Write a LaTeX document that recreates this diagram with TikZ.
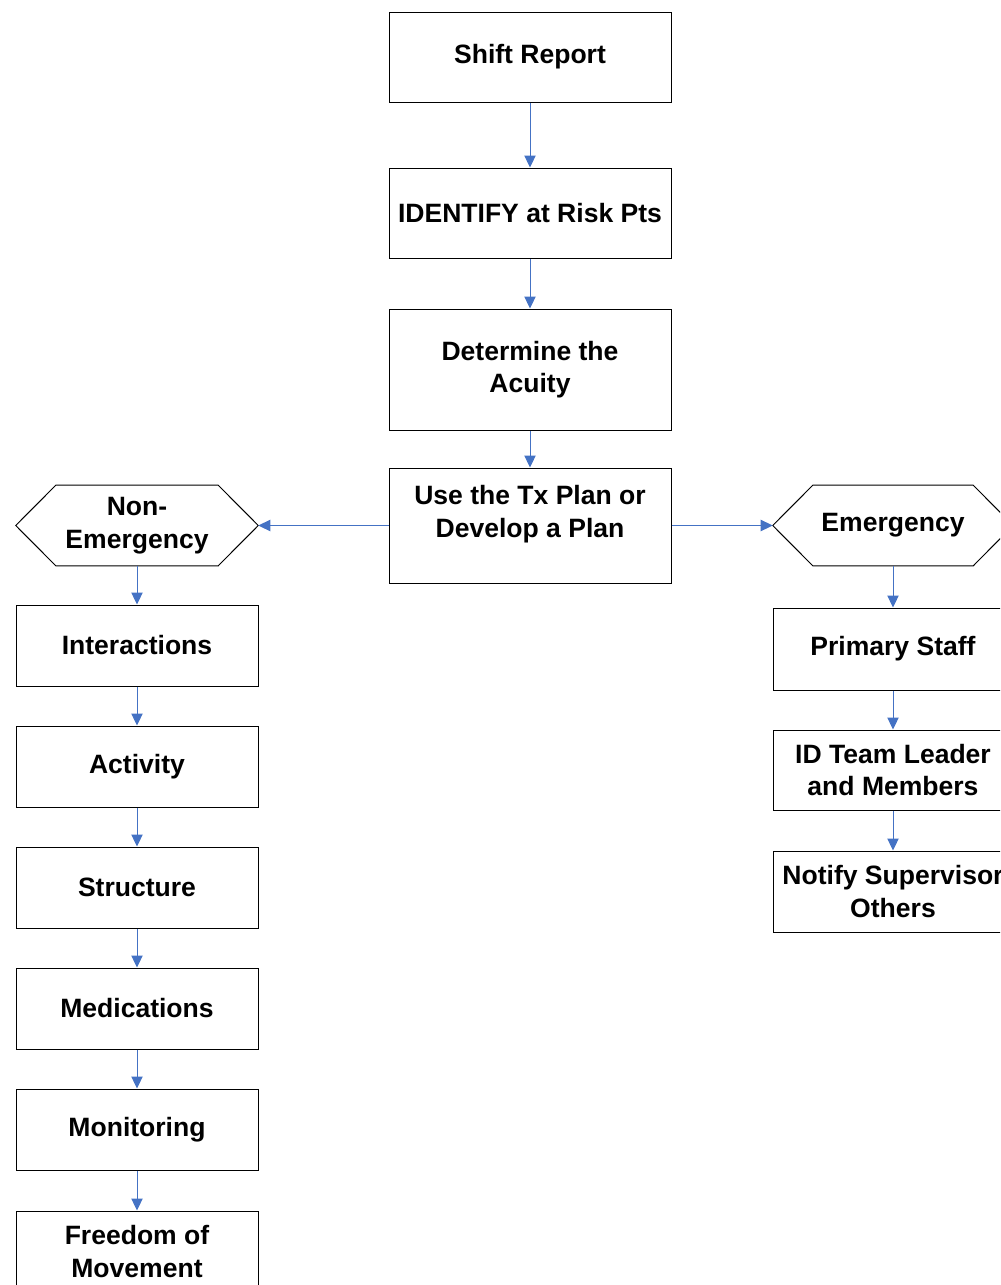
\documentclass[tikz,border=0pt]{standalone}
\usepackage{fontspec}
\setmainfont{Liberation Sans}
\usetikzlibrary{arrows.meta,calc}
\definecolor{arrowblue}{RGB}{68,114,196}
\begin{document}
\begin{tikzpicture}[x=0.75pt,y=-0.75pt,
 lbl/.style={font=\fontsize{19.9pt}{24.5pt}\selectfont\bfseries},
 box/.style={lbl,draw=black,line width=0.75pt,fill=white,inner sep=0pt,align=center},
 hexa/.style={lbl,draw=none,inner sep=0pt,align=center,minimum width=181.5pt,minimum height=60pt},
 hexline/.style={draw=black,line width=0.75pt},
 conn/.style={draw=arrowblue,line width=0.75pt,-{Triangle[length=9pt,width=8.5pt]}}]
\useasboundingbox (0,0) rectangle (1000,1285);
\clip (0,0) rectangle (1000,1285);
% centre column
\node[box,minimum width=211.5pt,minimum height=67.5pt] (shift) at (530,57) {Shift Report};
\node[box,minimum width=211.5pt,minimum height=67.5pt] (ident) at (530,213) {IDENTIFY at Risk Pts};
\node[box,minimum width=211.5pt,minimum height=90.75pt] (acuity) at (530,369.5) {Determine the\\Acuity};
\node[box,minimum width=211.5pt,minimum height=86.25pt] (plan) at (530,525.5) {};
\node[lbl,align=center,inner sep=0pt] (plantxt) at (530,514) {Use the Tx Plan or\\Develop a Plan};
% hexagons
\node[hexa] (nonem) at (137,525.5) {Non-\\Emergency};
\draw[hexline] (nonem.west) -- ($(nonem.north west)+(40,0)$) -- ($(nonem.north east)+(-40,0)$) -- (nonem.east) -- ($(nonem.south east)+(-40,0)$) -- ($(nonem.south west)+(40,0)$) -- cycle;
\node[hexa,minimum width=180pt] (emerg) at (893,525.5) {Emergency};
\draw[hexline] (emerg.west) -- ($(emerg.north west)+(40,0)$) -- ($(emerg.north east)+(-40,0)$) -- (emerg.east) -- ($(emerg.south east)+(-40,0)$) -- ($(emerg.south west)+(40,0)$) -- cycle;
% left column
\node[box,minimum width=181.5pt,minimum height=60.75pt] (inter) at (137,645.5) {Interactions};
\node[box,minimum width=181.5pt,minimum height=60.75pt] (activ) at (137,766.5) {Activity};
\node[box,minimum width=181.5pt,minimum height=60.75pt] (struc) at (137,887.5) {Structure};
\node[box,minimum width=181.5pt,minimum height=60.75pt] (meds) at (137,1008.5) {Medications};
\node[box,minimum width=181.5pt,minimum height=60.75pt] (monit) at (137,1129.5) {Monitoring};
\node[box,minimum width=181.5pt,minimum height=60.75pt] (freed) at (137,1251.5) {Freedom of\\Movement};
% right column
\node[box,minimum width=180pt,minimum height=61.5pt] (prim) at (893,649) {Primary Staff};
\node[box,minimum width=180pt,minimum height=60pt] (idteam) at (893,770) {ID Team Leader\\and Members};
\node[box,minimum width=180pt,minimum height=60.75pt] (notify) at (893,891.5) {Notify Supervisor\\Others};
% connectors
\draw[conn] (shift) -- (ident);
\draw[conn] (ident) -- (acuity);
\draw[conn] (acuity) -- (plan);
\draw[conn] (plan.west) -- (nonem.east);
\draw[conn] (plan.east) -- (emerg.west);
\draw[conn] (nonem) -- (inter);
\draw[conn] (inter) -- (activ);
\draw[conn] (activ) -- (struc);
\draw[conn] (struc) -- (meds);
\draw[conn] (meds) -- (monit);
\draw[conn] (monit) -- (freed);
\draw[conn] (emerg) -- (prim);
\draw[conn] (prim) -- (idteam);
\draw[conn] (idteam) -- (notify);
\end{tikzpicture}
\end{document}
